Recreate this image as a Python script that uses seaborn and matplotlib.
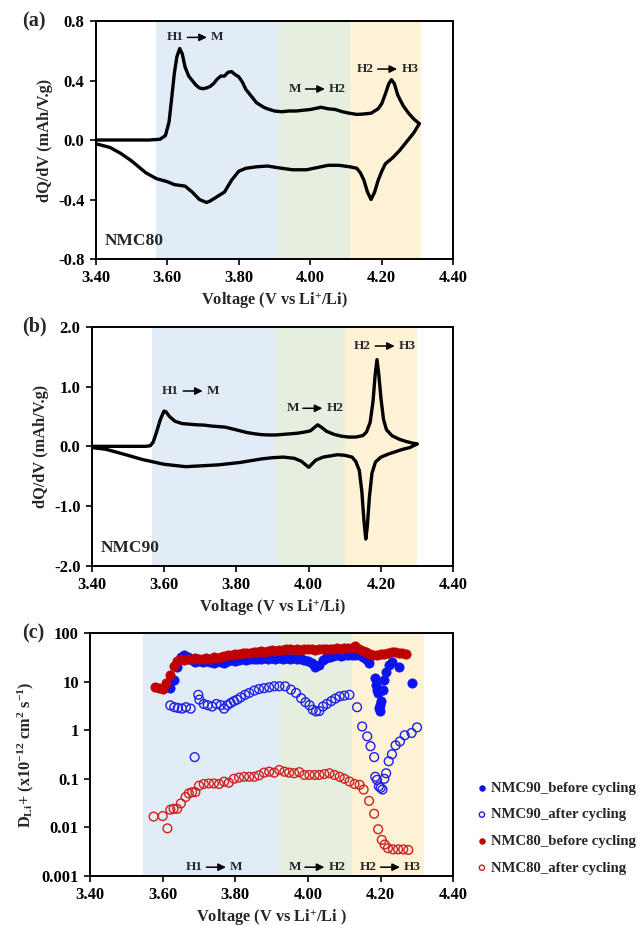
import numpy as np
import pandas as pd
import matplotlib
matplotlib.use('Agg')
import matplotlib.pyplot as plt
import seaborn as sns

# ---- panel (a) NMC80 dQ/dV ----
a_chg_v = [3.40, 3.45, 3.50, 3.55, 3.58, 3.595, 3.605, 3.612, 3.62, 3.627, 3.635, 3.642, 3.65, 3.66, 3.67,
           3.68, 3.69, 3.70, 3.71, 3.72, 3.73, 3.74, 3.75, 3.76, 3.77, 3.78, 3.79, 3.80, 3.81, 3.82, 3.83,
           3.84, 3.85, 3.86, 3.87, 3.88, 3.90, 3.92, 3.94, 3.96, 3.98, 4.00, 4.02, 4.03, 4.05, 4.07, 4.09,
           4.11, 4.13, 4.15, 4.17, 4.19, 4.20, 4.21, 4.22, 4.227, 4.235, 4.245, 4.26, 4.275, 4.29, 4.305]
a_chg_q = [0.00, 0.00, 0.00, 0.00, 0.005, 0.03, 0.12, 0.27, 0.45, 0.56, 0.615, 0.58, 0.49, 0.43, 0.40,
           0.37, 0.35, 0.345, 0.35, 0.36, 0.38, 0.41, 0.43, 0.43, 0.455, 0.46, 0.44, 0.425, 0.39, 0.34, 0.31,
           0.28, 0.25, 0.235, 0.22, 0.21, 0.195, 0.19, 0.195, 0.195, 0.20, 0.205, 0.215, 0.22, 0.21, 0.205, 0.19,
           0.18, 0.172, 0.175, 0.18, 0.21, 0.245, 0.31, 0.38, 0.405, 0.38, 0.30, 0.23, 0.18, 0.14, 0.11]
a_dis_v = [4.305, 4.29, 4.27, 4.25, 4.23, 4.21, 4.20, 4.19, 4.18, 4.17, 4.16, 4.15, 4.14, 4.13, 4.11,
           4.08, 4.05, 4.02, 3.99, 3.95, 3.92, 3.88, 3.85, 3.82, 3.80, 3.78, 3.76, 3.74, 3.72, 3.71, 3.69,
           3.67, 3.65, 3.62, 3.60, 3.57, 3.54, 3.50, 3.47, 3.44, 3.40]
a_dis_q = [0.11, 0.05, -0.01, -0.07, -0.12, -0.16, -0.21, -0.27, -0.35, -0.40, -0.35, -0.27, -0.22, -0.19, -0.18,
           -0.17, -0.17, -0.185, -0.20, -0.20, -0.19, -0.175, -0.18, -0.19, -0.21, -0.27, -0.35, -0.38, -0.41, -0.42, -0.40,
           -0.35, -0.31, -0.30, -0.28, -0.26, -0.22, -0.14, -0.09, -0.05, -0.025]

# ---- panel (b) NMC90 dQ/dV ----
b_chg_v = [3.40, 3.45, 3.50, 3.55, 3.562, 3.57, 3.58, 3.59, 3.60, 3.605, 3.615, 3.63, 3.65, 3.67, 3.69,
           3.71, 3.73, 3.75, 3.77, 3.79, 3.81, 3.83, 3.85, 3.87, 3.89, 3.91, 3.93, 3.95, 3.97, 3.99, 4.005,
           4.015, 4.025, 4.035, 4.05, 4.07, 4.09, 4.11, 4.13, 4.15, 4.16, 4.17, 4.178, 4.184, 4.189, 4.194,
           4.20, 4.207, 4.215, 4.23, 4.25, 4.27, 4.29, 4.30]
b_chg_q = [0.00, 0.00, 0.00, 0.00, 0.01, 0.07, 0.25, 0.45, 0.59, 0.58, 0.50, 0.42, 0.38, 0.37, 0.36,
           0.355, 0.34, 0.33, 0.32, 0.29, 0.26, 0.23, 0.21, 0.195, 0.19, 0.19, 0.20, 0.21, 0.22, 0.24, 0.26,
           0.31, 0.36, 0.32, 0.25, 0.20, 0.17, 0.155, 0.155, 0.18, 0.24, 0.40, 0.75, 1.20, 1.45, 1.20,
           0.80, 0.45, 0.28, 0.18, 0.12, 0.08, 0.05, 0.04]
b_dis_v = [4.30, 4.28, 4.26, 4.24, 4.22, 4.20, 4.185, 4.175, 4.168, 4.162, 4.158, 4.153, 4.147, 4.14, 4.13,
           4.12, 4.10, 4.08, 4.06, 4.04, 4.02, 4.00, 3.99, 3.98, 3.96, 3.93, 3.90, 3.87, 3.84, 3.81, 3.78,
           3.75, 3.72, 3.69, 3.66, 3.63, 3.60, 3.57, 3.54, 3.50, 3.47, 3.44, 3.40]
b_dis_q = [0.04, -0.02, -0.05, -0.09, -0.13, -0.18, -0.26, -0.45, -0.85, -1.35, -1.55, -1.25, -0.75, -0.40, -0.25,
           -0.18, -0.15, -0.14, -0.16, -0.18, -0.23, -0.35, -0.30, -0.25, -0.20, -0.18, -0.19, -0.21, -0.24, -0.27, -0.29,
           -0.31, -0.32, -0.33, -0.34, -0.32, -0.30, -0.26, -0.22, -0.15, -0.10, -0.05, -0.02]

# ---- panel (c) diffusion coefficients ----
n80_before_v = [3.58, 3.59, 3.60, 3.61, 3.62, 3.63, 3.64, 3.65, 3.66, 3.67, 3.68, 3.69, 3.70, 3.71, 3.72,
                3.73, 3.74, 3.75, 3.76, 3.77, 3.78, 3.79, 3.80, 3.81, 3.82, 3.83, 3.84, 3.85, 3.86, 3.87,
                3.88, 3.89, 3.90, 3.91, 3.92, 3.93, 3.94, 3.95, 3.96, 3.97, 3.98, 3.99, 4.00, 4.01, 4.02,
                4.03, 4.04, 4.05, 4.06, 4.07, 4.08, 4.09, 4.10, 4.11, 4.12, 4.13, 4.14, 4.15, 4.16, 4.17,
                4.18, 4.19, 4.20, 4.21, 4.22, 4.23, 4.24, 4.25, 4.26, 4.27]
n80_before_d = [7.7, 7.3, 7.2, 9.5, 14, 21, 27, 29, 28, 30, 29, 31, 29, 30, 31,
                30, 32, 31, 33, 34, 35, 36, 38, 37, 39, 40, 39, 41, 42, 43,
                42, 44, 45, 44, 46, 45, 47, 48, 46, 47, 46, 47, 48, 47, 46,
                47, 48, 47, 48, 47, 49, 48, 49, 50, 51, 55, 47, 44, 41, 38,
                36, 35, 37, 38, 40, 42, 41, 39, 40, 38]

n90_before_v = [3.62, 3.63, 3.64, 3.65, 3.66, 3.67, 3.68, 3.69, 3.70, 3.71, 3.72, 3.73, 3.74, 3.75, 3.76,
                3.77, 3.78, 3.79, 3.80, 3.81, 3.82, 3.83, 3.84, 3.85, 3.86, 3.87, 3.88, 3.89, 3.90, 3.91,
                3.92, 3.93, 3.94, 3.95, 3.96, 3.97, 3.98, 3.99, 4.00, 4.01, 4.02, 4.03, 4.04, 4.05, 4.06,
                4.07, 4.08, 4.09, 4.10, 4.11, 4.12, 4.13, 4.14, 4.15, 4.16, 4.167, 4.183, 4.187, 4.19,
                4.193, 4.195, 4.197, 4.199, 4.20, 4.205, 4.21, 4.215, 4.222, 4.232, 4.251, 4.287]
n90_before_d = [7.4, 11, 20, 33, 35, 32, 28, 26, 27, 26, 27, 26, 25, 27, 26,
                25, 27, 28, 27, 28, 29, 28, 29, 30, 29, 30, 31, 30, 31, 30,
                31, 30, 31, 30, 31, 30, 29, 28, 27, 24, 20, 22, 28, 31, 33,
                34, 35, 34, 35, 36, 35, 36, 35, 33, 30, 24, 12, 8.7, 6.9,
                5.9, 2.9, 2.5, 3.4, 4.0, 6.9, 11, 16, 22, 26, 20, 9.4]

n90_after_v = [3.621, 3.632, 3.642, 3.653, 3.664, 3.677, 3.688, 3.698, 3.701, 3.713, 3.724, 3.736, 3.748, 3.76,
               3.769, 3.778, 3.787, 3.796, 3.805, 3.815, 3.827, 3.838, 3.852, 3.865, 3.879, 3.893, 3.907, 3.921,
               3.937, 3.953, 3.967, 3.981, 3.993, 4.004, 4.013, 4.022, 4.031, 4.041, 4.052, 4.064, 4.075, 4.087,
               4.10, 4.114, 4.135, 4.149, 4.163, 4.172, 4.182, 4.185, 4.19, 4.195, 4.20, 4.205, 4.21, 4.215,
               4.222, 4.231, 4.241, 4.253, 4.266, 4.285, 4.30]
n90_after_d = [3.27, 3.0, 2.9, 2.8, 3.0, 2.8, 0.28, 5.4, 4.3, 3.5, 3.3, 3.1, 3.5, 3.3,
               2.8, 3.3, 3.66, 4.0, 4.3, 4.8, 5.4, 5.9, 6.6, 7.1, 7.4, 7.7, 8.1, 8.1,
               8.1, 6.9, 5.9, 4.6, 3.8, 3.3, 2.66, 2.45, 2.5, 3.1, 3.5, 4.0, 4.5, 5.0,
               5.2, 5.4, 3.0, 1.2, 0.75, 0.47, 0.28, 0.11, 0.095, 0.07, 0.065, 0.06, 0.10, 0.13,
               0.23, 0.32, 0.49, 0.59, 0.79, 0.88, 1.15]

n80_after_v = [3.575, 3.60, 3.613, 3.621, 3.63, 3.64, 3.65, 3.663, 3.672, 3.681, 3.69, 3.70, 3.713, 3.727,
               3.741, 3.755, 3.769, 3.782, 3.796, 3.81, 3.824, 3.838, 3.852, 3.865, 3.879, 3.893, 3.907, 3.921,
               3.935, 3.948, 3.962, 3.976, 3.99, 4.004, 4.018, 4.031, 4.045, 4.059, 4.073, 4.087, 4.10, 4.114,
               4.128, 4.142, 4.153, 4.168, 4.182, 4.193, 4.203, 4.211, 4.22, 4.234, 4.248, 4.262, 4.276]
n80_after_d = [0.0166, 0.017, 0.0095, 0.023, 0.024, 0.024, 0.031, 0.042, 0.05, 0.053, 0.053, 0.072, 0.078, 0.08,
               0.08, 0.078, 0.087, 0.083, 0.10, 0.106, 0.11, 0.11, 0.11, 0.118, 0.134, 0.14, 0.134, 0.152,
               0.14, 0.134, 0.13, 0.137, 0.12, 0.12, 0.12, 0.12, 0.125, 0.13, 0.12, 0.11, 0.10, 0.088,
               0.078, 0.075, 0.060, 0.035, 0.019, 0.0091, 0.0055, 0.0044, 0.0037, 0.0035, 0.0035, 0.0035, 0.0034]

x_ticks = [3.40, 3.60, 3.80, 4.00, 4.20, 4.40]
regions_a = [(3.568, 3.909, '#e2ecf7'), (3.909, 4.11, '#e6efdf'), (4.11, 4.31, '#fdf1d6')]
regions_b = [(3.568, 3.907, '#e2ecf7'), (3.907, 4.10, '#e6efdf'), (4.10, 4.30, '#fdf1d6')]
regions_c = [(3.545, 3.923, '#e2ecf7'), (3.923, 4.12, '#e6efdf'), (4.12, 4.32, '#fdf1d6')]

sns.set_style('ticks')
plt.rcParams['font.family'] = ['Liberation Serif', 'DejaVu Serif']
plt.rcParams['font.weight'] = 'bold'
plt.rcParams['axes.labelweight'] = 'bold'
plt.rcParams['mathtext.fontset'] = 'custom'
plt.rcParams['mathtext.rm'] = 'Liberation Serif:bold'
plt.rcParams['mathtext.it'] = 'Liberation Serif:bold'
plt.rcParams['mathtext.bf'] = 'Liberation Serif:bold'

TICK_FS = 12
LABEL_FS = 11.8

fig = plt.figure(figsize=(6.38, 9.26), dpi=100)
ax_a = fig.add_axes([0.1500, 0.7203, 0.5605, 0.2570])
ax_b = fig.add_axes([0.1437, 0.3888, 0.5668, 0.2584])
ax_c = fig.add_axes([0.1411, 0.0543, 0.5695, 0.2617])

XLABEL = 'Voltage (V vs Li$^{+}$/Li)'


def style_axes(ax, regions):
    for x0, x1, c in regions:
        ax.axvspan(x0, x1, color=c, lw=0, zorder=0)
    ax.set_xlim(3.40, 4.40)
    ax.set_xticks(x_ticks)
    ax.set_xticklabels([f'{t:.2f}' for t in x_ticks])
    for s in ax.spines.values():
        s.set_linewidth(1.4)
        s.set_color('black')
        s.set_visible(True)
    ax.tick_params(direction='out', width=1.2, length=4, pad=4, labelsize=TICK_FS, colors='black')
    for lab in ax.get_xticklabels() + ax.get_yticklabels():
        lab.set_fontweight('bold')


def phase_label(ax, x, y, left, right, fs=9.5):
    # arrow head sits at (x, y); the two phase names sit either side
    ax.annotate('', xy=(x, y), xytext=(-14, 0), textcoords='offset points',
                arrowprops=dict(arrowstyle='-|>,head_length=0.45,head_width=0.22', lw=1.1, color='black',
                                shrinkA=0, shrinkB=0))
    ax.annotate(left, xy=(x, y), xytext=(-17, 0), textcoords='offset points', ha='right', va='center',
                fontsize=fs, fontweight='bold')
    ax.annotate(right, xy=(x, y), xytext=(3, 0), textcoords='offset points', ha='left', va='center',
                fontsize=fs, fontweight='bold')


# (a)
style_axes(ax_a, regions_a)
sns.lineplot(x=a_chg_v, y=a_chg_q, sort=False, estimator=None, color='black', lw=2.4, ax=ax_a)
sns.lineplot(x=a_dis_v, y=a_dis_q, sort=False, estimator=None, color='black', lw=2.4, ax=ax_a)
ax_a.set_ylim(-0.8, 0.8)
ax_a.set_yticks([-0.8, -0.4, 0.0, 0.4, 0.8])
ax_a.set_yticklabels(['-0.8', '-0.4', '0.0', '0.4', '0.8'], fontweight='bold')
ax_a.set_xlabel(XLABEL, fontsize=LABEL_FS, labelpad=3)
ax_a.set_ylabel('dQ/dV (mAh/V.g)', fontsize=LABEL_FS, labelpad=4)
phase_label(ax_a, 3.711, 0.69, 'H1', 'M')
phase_label(ax_a, 4.041, 0.343, 'M', 'H2')
phase_label(ax_a, 4.243, 0.477, 'H2', 'H3')
ax_a.text(0.025, 0.06, 'NMC80', transform=ax_a.transAxes, fontsize=12.5, fontweight='bold')

# (b)
style_axes(ax_b, regions_b)
sns.lineplot(x=b_chg_v, y=b_chg_q, sort=False, estimator=None, color='black', lw=2.4, ax=ax_b)
sns.lineplot(x=b_dis_v, y=b_dis_q, sort=False, estimator=None, color='black', lw=2.4, ax=ax_b)
ax_b.set_ylim(-2.0, 2.0)
ax_b.set_yticks([-2.0, -1.0, 0.0, 1.0, 2.0])
ax_b.set_yticklabels(['-2.0', '-1.0', '0.0', '1.0', '2.0'], fontweight='bold')
ax_b.set_xlabel(XLABEL, fontsize=LABEL_FS, labelpad=3)
ax_b.set_ylabel('dQ/dV (mAh/V.g)', fontsize=LABEL_FS, labelpad=4)
phase_label(ax_b, 3.707, 0.925, 'H1', 'M')
phase_label(ax_b, 4.038, 0.636, 'M', 'H2')
phase_label(ax_b, 4.238, 1.677, 'H2', 'H3')
ax_b.text(0.025, 0.06, 'NMC90', transform=ax_b.transAxes, fontsize=12.5, fontweight='bold')

# (c)
style_axes(ax_c, regions_c)
ax_c.set_yscale('log')
sns.scatterplot(x=n90_before_v, y=n90_before_d, ax=ax_c, color='#0a14f0', edgecolor='#0a14f0',
                s=44, marker='o', linewidth=0.6, label='NMC90_before cycling', zorder=3)
sns.scatterplot(x=n90_after_v, y=n90_after_d, ax=ax_c, facecolor='none', edgecolor='#1f1fe6',
                s=40, marker='o', linewidth=1.0, label='NMC90_after cycling', zorder=3)
sns.scatterplot(x=n80_before_v, y=n80_before_d, ax=ax_c, color='#c00000', edgecolor='#c00000',
                s=44, marker='o', linewidth=0.6, label='NMC80_before cycling', zorder=4)
sns.scatterplot(x=n80_after_v, y=n80_after_d, ax=ax_c, facecolor='none', edgecolor='#d02020',
                s=40, marker='o', linewidth=1.0, label='NMC80_after cycling', zorder=3)
ax_c.set_ylim(0.001, 100)
ax_c.set_yticks([0.001, 0.01, 0.1, 1, 10, 100])
ax_c.set_yticklabels(['0.001', '0.01', '0.1', '1', '10', '100'], fontweight='bold')
ax_c.minorticks_off()
ax_c.set_xlabel('Voltage (V vs Li$^{+}$/Li )', fontsize=LABEL_FS, labelpad=3)
ax_c.set_ylabel('D$_{Li}$+ (x10$^{-12}$ cm$^{2}$ s$^{-1}$)', fontsize=LABEL_FS, labelpad=4)
phase_label(ax_c, 3.774, 0.0015, 'H1', 'M')
phase_label(ax_c, 4.045, 0.0015, 'M', 'H2')
phase_label(ax_c, 4.253, 0.0015, 'H2', 'H3')
leg = ax_c.legend(loc='lower left', bbox_to_anchor=(1.03, -0.05), frameon=False,
                  handlelength=0.6, handletextpad=0.3, labelspacing=0.9, markerscale=0.6,
                  prop={'weight': 'bold', 'size': 10.6})

# panel letters
fig.text(0.034, 0.977, '(a)', fontsize=14.5, fontweight='bold', va='center')
fig.text(0.034, 0.647, '(b)', fontsize=14.5, fontweight='bold', va='center')
fig.text(0.034, 0.316, '(c)', fontsize=14.5, fontweight='bold', va='center')

fig.savefig('out.png', dpi=100)
